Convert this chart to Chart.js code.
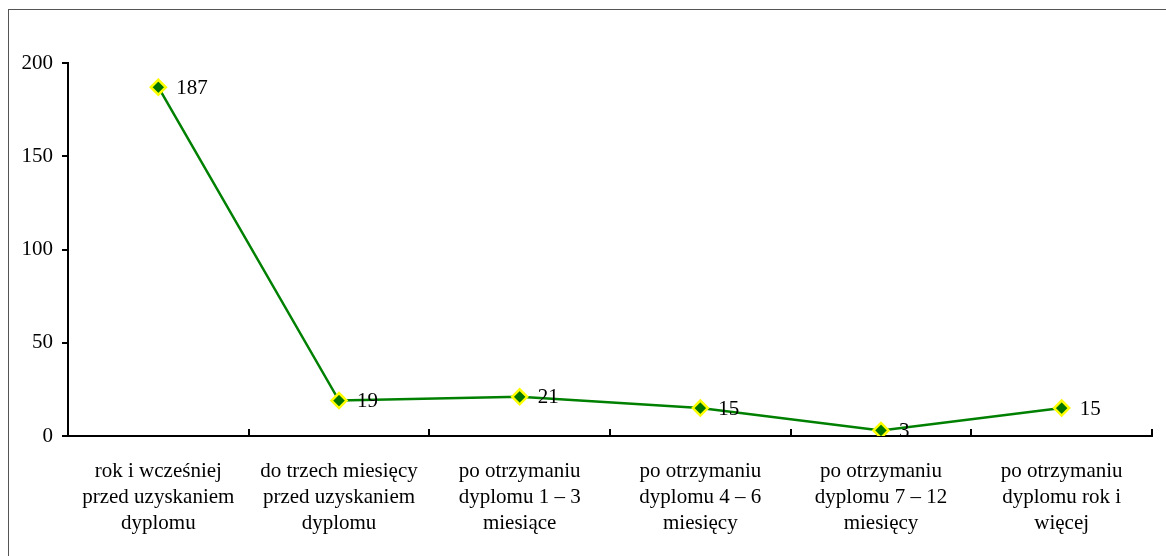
<!DOCTYPE html>
<html>
<head>
<meta charset="utf-8">
<script src="https://cdn.jsdelivr.net/npm/chart.js@4"></script>
<style>
  html, body { margin: 0; padding: 0; background: #fff; }
  #wrap { position: relative; width: 1166px; height: 556px; overflow: hidden; }
  #frame { position: absolute; left: 8px; top: 9px; width: 1200px; height: 600px; border: 1px solid #555; }
  canvas { position: absolute; left: 0; top: 0; }
</style>
</head>
<body>
<div id="wrap">
  <div id="frame"></div>
  <canvas id="chart" width="1166" height="556"></canvas>
</div>
<script>
const categories = [
    ['rok i wcześniej', 'przed uzyskaniem', 'dyplomu'],
    ['do trzech miesięcy', 'przed uzyskaniem', 'dyplomu'],
    ['po otrzymaniu', 'dyplomu 1 – 3', 'miesiące'],
    ['po otrzymaniu', 'dyplomu 4 – 6', 'miesięcy'],
    ['po otrzymaniu', 'dyplomu 7 – 12', 'miesięcy'],
    ['po otrzymaniu', 'dyplomu rok i', 'więcej']
];
const values = [187, 19, 21, 15, 3, 15];
const yTicks = [0, 50, 100, 150, 200];

const serif = "'Liberation Serif', 'Times New Roman', serif";

// value labels to the right of each point
const valueLabels = {
    id: 'valueLabels',
    afterDatasetsDraw(chart) {
        const ctx = chart.ctx;
        const meta = chart.getDatasetMeta(0);
        ctx.save();
        ctx.font = '21px ' + serif;
        ctx.fillStyle = '#000';
        ctx.textAlign = 'left';
        ctx.textBaseline = 'middle';
        meta.data.forEach(function (pt, i) {
            ctx.fillText(String(values[i]), pt.x + 18, pt.y + 1);
        });
        ctx.restore();
    }
};

// small tick marks pointing up from the x axis, between categories
const xInnerTicks = {
    id: 'xInnerTicks',
    afterDraw(chart) {
        const x = chart.scales.x;
        const ctx = chart.ctx;
        const n = categories.length;
        ctx.save();
        ctx.strokeStyle = '#000';
        ctx.lineWidth = 2;
        ctx.beginPath();
        for (let i = 1; i <= n; i++) {
            const px = Math.round(x.left + i * x.width / n);
            ctx.moveTo(px, x.top);
            ctx.lineTo(px, x.top - 7);
        }
        ctx.stroke();
        ctx.restore();
    }
};

new Chart(document.getElementById('chart'), {
    type: 'line',
    data: {
        labels: categories,
        datasets: [{
            data: values,
            borderColor: '#008000',
            borderWidth: 2.5,
            tension: 0,
            pointStyle: 'rectRot',
            pointRadius: 7.5,
            pointHoverRadius: 7.5,
            pointBackgroundColor: '#007400',
            pointBorderColor: '#ffff00',
            pointBorderWidth: 2.5
        }]
    },
    options: {
        responsive: false,
        animation: false,
        events: [],
        layout: { padding: { left: 0, right: 14, top: 63, bottom: 0 } },
        plugins: {
            legend: { display: false },
            tooltip: { enabled: false }
        },
        scales: {
            x: {
                offset: true,
                grid: { display: false, drawTicks: false },
                border: { display: true, color: '#000', width: 2 },
                ticks: {
                    color: '#000',
                    font: { family: serif, size: 21, lineHeight: 1.22 },
                    padding: 23,
                    maxRotation: 0,
                    autoSkip: false
                },
                afterFit: function (s) { s.height = 120; }
            },
            y: {
                min: 0,
                max: 200,
                afterBuildTicks: function (s) { s.ticks = yTicks.map(v => ({ value: v })); },
                grid: {
                    drawOnChartArea: false,
                    drawTicks: true,
                    tickLength: 6,
                    color: '#000',
                    lineWidth: 2
                },
                border: { display: true, color: '#000', width: 2 },
                ticks: {
                    color: '#000',
                    font: { family: serif, size: 21 },
                    padding: 9
                },
                afterFit: function (s) { s.width = 68; }
            }
        }
    },
    plugins: [valueLabels, xInnerTicks]
});
</script>
</body>
</html>
